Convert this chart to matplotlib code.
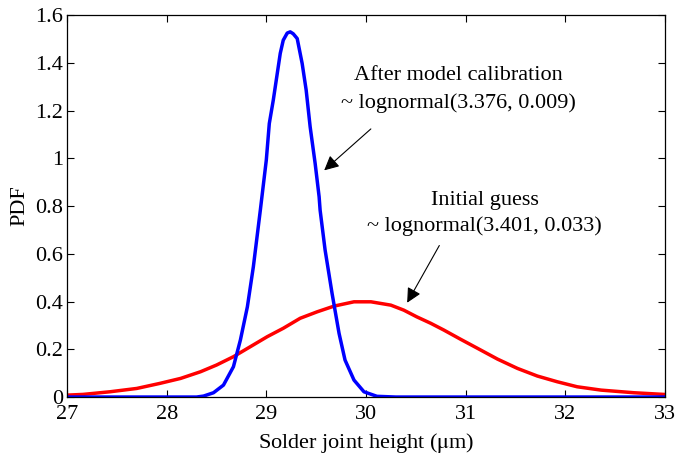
import matplotlib.pyplot as plt

plt.rcParams['font.family'] = ['Liberation Serif', 'DejaVu Serif']
plt.rcParams['mathtext.fontset'] = 'stix'

# calibrated PDF (blue)
x_cal = [27.0, 28.0, 28.30, 28.37, 28.47, 28.57, 28.67, 28.74, 28.81, 28.87, 28.94,
         29.0, 29.03, 29.07, 29.11, 29.14, 29.17, 29.21, 29.24, 29.27, 29.31, 29.36,
         29.40, 29.44, 29.49, 29.53, 29.54, 29.59, 29.66, 29.73, 29.79, 29.88, 29.98,
         30.11, 30.3, 33.0]
y_cal = [0.0, 0.0, 0.0, 0.004, 0.018, 0.05, 0.127, 0.239, 0.378, 0.546, 0.783,
         0.993, 1.146, 1.244, 1.356, 1.44, 1.495, 1.525, 1.53, 1.522, 1.502, 1.397,
         1.286, 1.132, 0.979, 0.839, 0.783, 0.616, 0.434, 0.267, 0.155, 0.071, 0.022,
         0.003, 0.0, 0.0]

# initial guess PDF (red)
x_init = [27.0, 27.16, 27.43, 27.70, 27.93, 28.14, 28.34, 28.50, 28.67, 28.84, 29.01,
          29.17, 29.34, 29.51, 29.68, 29.88, 30.05, 30.25, 30.38, 30.51, 30.65, 30.78,
          30.95, 31.12, 31.32, 31.52, 31.72, 31.92, 32.12, 32.36, 32.69, 32.99]
y_init = [0.008, 0.011, 0.022, 0.036, 0.057, 0.078, 0.106, 0.134, 0.169, 0.211, 0.253,
          0.288, 0.33, 0.357, 0.381, 0.399, 0.399, 0.385, 0.364, 0.336, 0.309, 0.281,
          0.242, 0.204, 0.159, 0.12, 0.088, 0.064, 0.043, 0.029, 0.018, 0.011]

xticks = [27, 28, 29, 30, 31, 32, 33]
yticks = [0, 0.2, 0.4, 0.6, 0.8, 1.0, 1.2, 1.4, 1.6]
ylabels = ['0', '0.2', '0.4', '0.6', '0.8', '1', '1.2', '1.4', '1.6']

fig = plt.figure(figsize=(6.75, 4.59), dpi=100)
ax = fig.add_axes([0.0993, 0.135, 0.8857, 0.832])

ax.plot(x_init, y_init, color='#ff0000', lw=2.5, solid_joinstyle='round')
ax.plot(x_cal, y_cal, color='#0000ff', lw=2.5, solid_joinstyle='round')

ax.set_xlim(27, 33)
ax.set_ylim(0, 1.6)
ax.set_xticks(xticks)
ax.set_yticks(yticks)
ax.set_yticklabels(ylabels)
ax.tick_params(direction='in', top=True, right=True, length=5, width=0.8,
               labelsize=16)
ax.tick_params(axis='x', pad=6)
ax.tick_params(axis='y', pad=3)
for s in ax.spines.values():
    s.set_linewidth(0.9)

ax.set_xlabel(r'Solder joint height ($\mathrm{\mu}$m)', fontsize=16, labelpad=5)
ax.set_ylabel('PDF', fontsize=16, labelpad=4)

ax.text(30.93, 1.349, 'After model calibration', fontsize=16, ha='center', va='center')
ax.text(30.93, 1.231, '~ lognormal(3.376, 0.009)', fontsize=16, ha='center', va='center')
ax.annotate('', xy=(29.56, 0.942), xytext=(30.07, 1.131),
            arrowprops=dict(arrowstyle='-|>', color='k', lw=0.8, mutation_scale=22))

ax.text(31.19, 0.825, 'Initial guess', fontsize=16, ha='center', va='center')
ax.text(31.19, 0.716, '~ lognormal(3.401, 0.033)', fontsize=16, ha='center', va='center')
ax.annotate('', xy=(30.40, 0.385), xytext=(30.75, 0.645),
            arrowprops=dict(arrowstyle='-|>', color='k', lw=0.8, mutation_scale=22))

fig.savefig('out.png', dpi=100)
